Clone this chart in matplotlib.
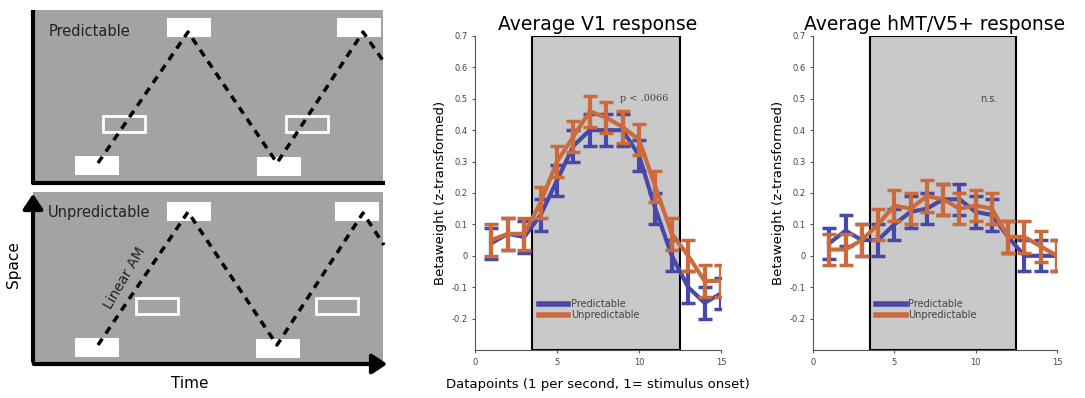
import numpy as np
import matplotlib.pyplot as plt
from matplotlib.patches import Rectangle, FancyArrowPatch

# ---- data ----
datapoints = np.arange(1, 16)
v1_pred = [0.04, 0.07, 0.06, 0.13, 0.24, 0.35, 0.40, 0.40, 0.40, 0.32, 0.15, 0.00, -0.10, -0.15, -0.12]
v1_unpred = [0.05, 0.07, 0.07, 0.17, 0.30, 0.38, 0.46, 0.44, 0.41, 0.37, 0.22, 0.07, 0.00, -0.08, -0.08]
mt_pred = [0.04, 0.08, 0.05, 0.05, 0.10, 0.14, 0.15, 0.18, 0.18, 0.14, 0.13, 0.06, 0.00, 0.00, 0.00]
mt_unpred = [0.02, 0.02, 0.05, 0.10, 0.16, 0.15, 0.19, 0.18, 0.15, 0.16, 0.15, 0.06, 0.06, 0.03, 0.00]
err = 0.05
stim_window = (3.5, 12.5)
y_ticks = [-0.2, -0.1, 0, 0.1, 0.2, 0.3, 0.4, 0.5, 0.6, 0.7]
y_ticklabels = ['-0.2', '-0.1', '0', '0.1', '0.2', '0.3', '0.4', '0.5', '0.6', '0.7']
x_ticks = [0, 5, 10, 15]

# schematic path vertices (pixel coords of left panel)
wave_top_x = [98, 188, 277, 363, 384]
wave_top_y = [163, 32, 163, 32, 62]
wave_bot_x = [98, 188, 277, 363, 384]
wave_bot_y = [345, 212, 345, 213, 245]

blue = '#4848a8'
orange = '#cc6a3c'

fig = plt.figure(figsize=(10.85, 3.98), dpi=100)

# ---- left schematic ----
ax0 = fig.add_axes([0, 0, 400 / 1085, 1])
ax0.set_xlim(0, 400)
ax0.set_ylim(398, 0)
ax0.axis('off')
box_grey = '#a3a3a3'
ax0.add_patch(Rectangle((33, 10), 350, 173, facecolor=box_grey, edgecolor='none'))
ax0.add_patch(Rectangle((33, 192), 350, 172, facecolor=box_grey, edgecolor='none'))
ax0.plot([33, 33, 385], [10, 183, 183], color='black', lw=3, solid_capstyle='butt')

# white stimulus boxes
for (x, y) in [(75, 156), (167, 18), (257, 157), (337, 18),
               (75, 338), (167, 202), (256, 339), (335, 202)]:
    ax0.add_patch(Rectangle((x, y), 44, 19, facecolor='white', edgecolor='none'))
for (x, y) in [(103, 116), (286, 116), (136, 298), (316, 298)]:
    ax0.add_patch(Rectangle((x, y), 42, 16, facecolor='none', edgecolor='white', lw=2))

ax0.plot(wave_top_x, wave_top_y, color='black', lw=2.5, ls=(0, (2.2, 1.8)))
ax0.plot(wave_bot_x, wave_bot_y, color='black', lw=2.5, ls=(0, (2.2, 1.8)))

# axes arrows
ax0.add_patch(FancyArrowPatch((33, 364), (33, 191), arrowstyle='-|>,head_length=6,head_width=4',
                              color='black', lw=3, mutation_scale=1.5))
ax0.add_patch(FancyArrowPatch((31, 364), (390, 364), arrowstyle='-|>,head_length=6,head_width=4',
                              color='black', lw=3, mutation_scale=1.5))

ax0.text(49, 31, 'Predictable', fontsize=10.5, color='#222222', va='center')
ax0.text(48, 212, 'Unpredictable', fontsize=10.5, color='#222222', va='center')
ax0.text(125, 278, 'Linear AM', fontsize=10, color='#222222', rotation=60,
         ha='center', va='center')
ax0.text(190, 384, 'Time', fontsize=11, ha='center', va='center')
ax0.text(14, 265, 'Space', fontsize=11, ha='center', va='center', rotation=90)


def response_panel(rect, pred, unpred, title, note, note_x, note_family):
    ax = fig.add_axes(rect)
    ax.add_patch(Rectangle((stim_window[0], -0.3), stim_window[1] - stim_window[0], 1.0,
                           facecolor='#c9c9c9', edgecolor='black', lw=1.5, zorder=0))
    ax.errorbar(datapoints, pred, yerr=err, color=blue, lw=3, elinewidth=3,
                capsize=5, capthick=2.5, label='Predictable', zorder=2)
    ax.errorbar(datapoints, unpred, yerr=err, color=orange, lw=3, elinewidth=3,
                capsize=5, capthick=2.5, label='Unpredictable', zorder=3)
    ax.set_xlim(0, 15)
    ax.set_ylim(-0.3, 0.7)
    ax.set_xticks(x_ticks)
    ax.set_yticks(y_ticks)
    ax.set_yticklabels(y_ticklabels)
    ax.tick_params(labelsize=6, length=2, color='#555555', labelcolor='#444444')
    for s in ['top', 'right']:
        ax.spines[s].set_visible(False)
    for s in ['left', 'bottom']:
        ax.spines[s].set_color('#555555')
        ax.spines[s].set_linewidth(0.8)
    ax.set_ylabel('Betaweight (z-transformed)', fontsize=9.5, labelpad=3)
    ax.set_title(title, fontsize=13.5, pad=4)
    ax.text(note_x, 0.5, note, fontsize=7, color='#444444', family=note_family,
            ha='center', va='center')
    leg = ax.legend(handles=[plt.Line2D([], [], color=blue, lw=4),
                             plt.Line2D([], [], color=orange, lw=4)],
                    labels=['Predictable', 'Unpredictable'],
                    loc='lower left', bbox_to_anchor=(0.24, 0.08), frameon=False,
                    fontsize=7, handlelength=3, handletextpad=0.3, labelspacing=0.1,
                    borderpad=0)
    for t in leg.get_texts():
        t.set_color('#444444')
    return ax


ax1 = response_panel([0.4378, 0.1206, 0.2267, 0.789], v1_pred, v1_unpred,
                     'Average V1 response', 'p < .0066', 10.3, 'serif')
ax1.set_xlabel('Datapoints (1 per second, 1= stimulus onset)', fontsize=9.5, labelpad=8)
ax2 = response_panel([0.7493, 0.1206, 0.2249, 0.789], mt_pred, mt_unpred,
                     'Average hMT/V5+ response', 'n.s.', 10.8, 'sans-serif')

fig.savefig('out.png', dpi=100)
